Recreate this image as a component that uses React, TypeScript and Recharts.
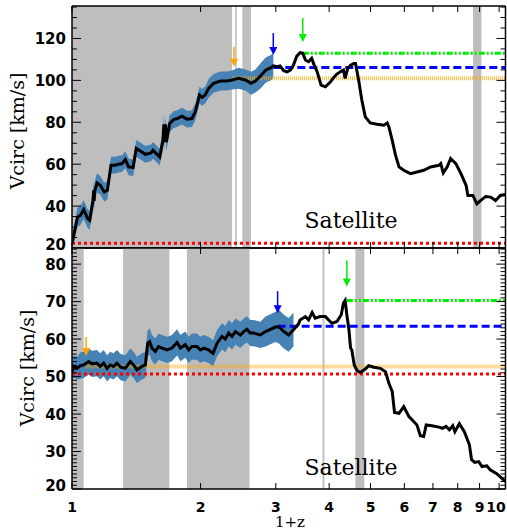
import React from 'react';
import {
    Area,
    ComposedChart,
    Line,
    ReferenceArea,
    ReferenceDot,
    ReferenceLine,
    XAxis,
    YAxis,
} from 'recharts';

const WIDTH = 507;
const HEIGHT = 532;
const Y_AXIS_W = 72;
const X_DOMAIN: [number, number] = [1, 10.35];
const xTicks = [1, 2, 3, 4, 5, 6, 7, 8, 9, 10];

// ---- upper panel ----
const topZ = [
    1.0, 1.03, 1.046, 1.065, 1.088, 1.1, 1.12, 1.124, 1.127, 1.13,
    1.144, 1.165, 1.19, 1.21, 1.234, 1.263, 1.286, 1.31, 1.333, 1.357,
    1.39, 1.414, 1.445, 1.485, 1.531, 1.547, 1.582, 1.604, 1.633, 1.641,
    1.648, 1.655, 1.663, 1.693, 1.73, 1.762, 1.81, 1.859, 1.909, 1.944,
    1.989, 2.016, 2.05, 2.089, 2.146, 2.227, 2.306, 2.37, 2.455, 2.546,
    2.626, 2.688, 2.76, 2.84, 2.93, 2.96,
    3.02, 3.07, 3.13, 3.19, 3.25, 3.3, 3.36, 3.42, 3.47, 3.52,
    3.58, 3.64, 3.69, 3.75, 3.83, 3.92, 4.03, 4.1, 4.17, 4.25,
    4.32, 4.36, 4.42, 4.49, 4.57, 4.61, 4.69, 4.77, 4.86, 4.99,
    5.18, 5.37, 5.47, 5.52, 5.62, 5.72, 5.83, 5.98, 6.2, 6.42,
    6.66, 6.91, 7.23, 7.3, 7.4, 7.56, 7.7, 7.92, 8.14, 8.37,
    8.45, 8.68, 8.87, 9.06, 9.3, 9.55, 9.81, 10.07, 10.35,
];
const topVcirc = [
    22, 34.7, 35.5, 38.3, 34, 33.2, 42.7, 47.5, 42.5, 47,
    51, 49.9, 46.7, 47.5, 59.5, 59.5, 60, 60.3, 62.2, 58.7,
    58.4, 67.5, 66.3, 64.7, 65.4, 66.6, 64.7, 63.4, 71.4, 79,
    70.5, 79, 70.6, 79.4, 81.3, 81.8, 82.9, 81.5, 81.8, 85,
    93, 91.9, 93, 96.2, 98.6, 99.7, 99.7, 100.2, 101, 100.2,
    98.6, 99.7, 102, 104.9, 106.2, 106.9,
    106.5, 106.9, 104.6, 104.1, 105, 107.3, 111.6, 113.2, 112.9, 109.7,
    108.9, 110.5, 107.3, 104.1, 97.7, 96.9, 99.3, 101.4, 103, 104.1,
    104.9, 100.9, 105.7, 107.3, 108.1, 108.1, 100.1, 90.6, 82.6, 79.7,
    79.1, 78.6, 79.7, 77.8, 71.4, 64.3, 58.7, 57.1, 55.5, 56.3,
    57.1, 58.7, 59.5, 60.3, 55.8, 58.7, 62.7, 60.3, 55.5, 49.9,
    45.1, 45.1, 41.1, 42.7, 44.6, 44.3, 42.7, 45.1, 45.5,
];
// scatter half-width, only over the stretch where the band is drawn
const topErr = [
    3, 4.5, 4.5, 4.5, 4.5, 4.5, 4.5, 4.5, 4.5, 4.5,
    4.5, 4.5, 4.5, 4.5, 4, 4, 4, 4, 4, 4,
    4, 4, 4, 4, 4, 4, 4, 4, 4.5, 4.5,
    4.5, 4.5, 4.5, 4, 4, 4, 4, 4, 4, 4,
    4, 4, 4, 4.5, 4.5, 4.5, 4.5, 4.5, 5, 5,
    5.5, 5.5, 6, 6, 6, 6,
];
const topShaded = [[1, 2.37], [2.41, 2.43], [2.505, 2.625], [8.69, 9.09]];
const topLevels = [22.3, 101, 106.2, 112.9];
const topLevelFrom = [1, 2.37, 2.96, 3.47];
const topArrowZ = [2.395, 2.96, 3.47];
const topArrowTip = [106.5, 112.1, 118.3];
const topYMajor = [20, 40, 60, 80, 100, 120];

// ---- lower panel ----
const botZ = [
    1.0, 1.01, 1.027, 1.046, 1.065, 1.094, 1.114, 1.144, 1.165, 1.186,
    1.208, 1.229, 1.251, 1.274, 1.3, 1.333, 1.369, 1.394, 1.419, 1.458,
    1.485, 1.504, 1.52, 1.539, 1.567, 1.595, 1.625, 1.669, 1.714, 1.762,
    1.794, 1.843, 1.876, 1.909, 1.962, 1.997, 2.034, 2.089, 2.139, 2.186,
    2.245, 2.286, 2.328, 2.37, 2.413, 2.478, 2.523, 2.568, 2.614, 2.662,
    2.76, 2.838, 2.914, 2.993, 3.05, 3.133, 3.216, 3.3,
    3.39, 3.42, 3.52, 3.58, 3.65, 3.71, 3.81, 3.92, 3.99, 4.06,
    4.17, 4.27, 4.32, 4.36, 4.4, 4.45, 4.49, 4.52, 4.58, 4.65,
    4.73, 4.86, 4.95, 5.09, 5.27, 5.42, 5.52, 5.62, 5.69, 5.83,
    5.98, 6.15, 6.31, 6.42, 6.54, 6.66, 6.75, 6.96, 7.23, 7.37,
    7.51, 7.65, 7.79, 7.88, 8.07, 8.29, 8.52, 8.62, 8.77, 8.96,
    9.12, 9.36, 9.53, 9.87, 10.23, 10.35,
];
const botVcirc = [
    51.3, 52.7, 52.2, 52.9, 53.1, 54, 53.4, 53.6, 52.7, 53.6,
    52.2, 53.1, 52.7, 53.6, 52.5, 52.2, 54, 53.1, 51.8, 52.7,
    53.1, 58.9, 59.3, 57.6, 56.7, 58, 57.6, 57.1, 57.6, 59.1,
    57.6, 58.5, 57.1, 58, 58, 57.1, 57.6, 57.1, 56.2, 58.9,
    60.7, 60, 61.6, 60.7, 62, 61.1, 62, 62.6, 61.6, 61.6,
    61.1, 62, 62.6, 63.2, 63.3, 62, 61.1, 62.5,
    64, 65.1, 66, 65.1, 67.1, 65.6, 66, 66, 65.1, 64.2,
    64.7, 66.5, 69.6, 70.3, 66.5, 62.5, 57.6, 57.1, 53.1, 51.6,
    51.1, 52, 52.9, 52.5, 52.2, 51.3, 48.2, 46, 40.4, 40.2,
    42, 39.3, 38, 37.1, 34.2, 34, 37.1, 36.9, 36.5, 36.2,
    36.7, 35.8, 36.9, 35.3, 37.4, 35.3, 31.8, 27.8, 27.1, 27.3,
    26, 26.2, 25.1, 24.1, 22.5, 22,
];
const botErr = [
    2.5, 3, 3, 3.5, 3.5, 3.5, 3.5, 3.5, 3.5, 3.5,
    3.5, 3.5, 3.5, 3.5, 3.5, 3.5, 3.5, 3.5, 3.5, 3.5,
    3.5, 3.5, 3.5, 3.5, 3.5, 3.5, 3.5, 3.5, 3.5, 3.5,
    3.5, 3.5, 3.5, 3.5, 3.5, 3.5, 3.5, 3.5, 3.5, 3.5,
    3.5, 3.5, 3.5, 3.5, 3.5, 3.5, 3.5, 3.5, 3.5, 3.5,
    3.5, 4, 4, 4, 4.5, 4.5, 4.5, 4.5,
];
const botShaded = [[1, 1.065], [1.317, 1.69], [1.858, 2.604], [3.86, 3.9], [4.607, 4.836]];
const botLevels = [50.7, 52.7, 63.4, 70.3];
const botLevelFrom = [1, 1.075, 3.03, 4.4];
const botArrowZ = [1.079, 3.03, 4.4];
const botArrowTip = [55.5, 66.9, 74];
const botYMajor = [20, 30, 40, 50, 60, 70, 80];

// red, orange, blue, green
const levelStyles = [
    { stroke: '#ff0000', width: 3, dash: '3 3', opacity: 1 },
    { stroke: '#ffa500', width: 4, dash: '1 1', opacity: 0.75 },
    { stroke: '#0000ff', width: 3, dash: '8 4', opacity: 1 },
    { stroke: '#00ee00', width: 3, dash: '6 2 2 2 2 2', opacity: 1 },
];
const arrowColors = ['#ffa500', '#0000ff', '#00ee00'];

const tickFont = {
    fontFamily: '"DejaVu Sans", sans-serif',
    fontWeight: 700,
    fontSize: 15,
    fill: '#000',
};
const xTickFont = { ...tickFont, fontSize: 14 };
const serif = '"DejaVu Serif", serif';

const arrowShape = (color: string, len: number) => (props: any) => {
    const { cx, cy } = props;
    return (
        <g>
            <line x1={cx} x2={cx} y1={cy - len} y2={cy - 6} stroke={color} strokeWidth={1.5} />
            <path d={`M${cx - 4},${cy - 8} L${cx + 4},${cy - 8} L${cx},${cy} Z`} fill={color} />
        </g>
    );
};

function minorTicks(domain: [number, number], step: number) {
    const out: number[] = [];
    for (let t = Math.ceil(domain[0] / step) * step; t <= domain[1]; t += step) out.push(t);
    return out;
}

type PanelProps = {
    top: number;
    bottom: number;
    z: number[];
    v: number[];
    err: number[];
    shaded: number[][];
    levels: number[];
    levelFrom: number[];
    arrowZ: number[];
    arrowTip: number[];
    arrowLen: number[];
    yDomain: [number, number];
    yMajor: number[];
    yStep: number;
    xLabels: boolean;
};

// the four axes; `show` false keeps their room but draws nothing
function axes(p: PanelProps, show: boolean) {
    const yTicks = minorTicks(p.yDomain, p.yStep);
    const isMajor = (val: number) => p.yMajor.includes(val);
    const axisLine = show ? { stroke: '#000', strokeWidth: 1.5 } : false;

    const leftTick = (t: any) => {
        const major = isMajor(t.payload.value);
        const shift = t.payload.value === p.yMajor[0] ? -4 : 0;
        return (
            <g>
                <line x1={t.x} x2={t.x + (major ? 9 : 5)} y1={t.y} y2={t.y} stroke="#000" />
                {major && (
                    <text x={t.x - 6} y={t.y + 5.5 + shift} textAnchor="end" style={tickFont}>
                        {t.payload.value}
                    </text>
                )}
            </g>
        );
    };
    const rightTick = (t: any) => {
        const major = isMajor(t.payload.value);
        return <line x1={t.x} x2={t.x - (major ? 9 : 5)} y1={t.y} y2={t.y} stroke="#000" />;
    };
    const bottomTick = (t: any) => {
        // keep the last label inside the page
        const lx = Math.min(t.x, WIDTH - 11);
        return (
            <g>
                <line x1={t.x} x2={t.x} y1={t.y} y2={t.y - 6} stroke="#000" />
                {p.xLabels && (
                    <text x={lx} y={t.y + 23} textAnchor="middle" style={xTickFont}>
                        {t.payload.value}
                    </text>
                )}
            </g>
        );
    };
    const topTick = (t: any) => <line x1={t.x} x2={t.x} y1={t.y} y2={t.y + 6} stroke="#000" />;

    const xCommon = {
        dataKey: 'z',
        type: 'number' as const,
        scale: 'log' as const,
        domain: X_DOMAIN,
        allowDataOverflow: true,
        ticks: xTicks,
        interval: 0 as const,
        height: 1,
        tickSize: 0,
        tickMargin: 0,
        tickLine: false,
        axisLine,
    };
    const yCommon = {
        type: 'number' as const,
        domain: p.yDomain,
        allowDataOverflow: true,
        ticks: yTicks,
        interval: 0 as const,
        tickSize: 0,
        tickMargin: 0,
        tickLine: false,
        axisLine,
    };
    return [
        <XAxis key="xb" {...xCommon} tick={show ? bottomTick : false} />,
        <XAxis key="xt" xAxisId="t" orientation="top" {...xCommon} tick={show ? topTick : false} />,
        <YAxis key="yl" {...yCommon} width={Y_AXIS_W} tick={show ? leftTick : false} />,
        <YAxis key="yr" yAxisId="r" orientation="right" {...yCommon} width={1} tick={show ? rightTick : false} />,
    ];
}

function Panel(p: PanelProps) {
    const line = p.z.map((z, i) => ({ z, v: p.v[i] }));
    const band = p.err.map((e, i) => ({ z: p.z[i], range: [p.v[i] - e, p.v[i] + e] }));
    const margin = { top: p.top - 1, right: 0.5, bottom: HEIGHT - p.bottom - 1, left: 0 };
    const layer = { position: 'absolute' as const, left: 0, top: 0 };

    return (
        <>
            <div style={layer}>
                <ComposedChart width={WIDTH} height={HEIGHT} margin={margin}>
                    {axes(p, false)}
                    {p.shaded.map(([a, b], i) => (
                        <ReferenceArea
                            key={`s${i}`}
                            x1={a}
                            x2={b}
                            fill="#bebebe"
                            fillOpacity={1}
                            stroke="none"
                            ifOverflow="hidden"
                        />
                    ))}
                    <Area
                        data={band}
                        dataKey="range"
                        type="linear"
                        stroke="none"
                        fill="#4682b4"
                        fillOpacity={1}
                        isAnimationActive={false}
                        dot={false}
                        activeDot={false}
                    />
                    {p.levels.map((y, i) => (
                        <ReferenceLine
                            key={`l${i}`}
                            segment={[
                                { x: p.levelFrom[i], y },
                                { x: X_DOMAIN[1], y },
                            ]}
                            stroke={levelStyles[i].stroke}
                            strokeWidth={levelStyles[i].width}
                            strokeDasharray={levelStyles[i].dash}
                            strokeOpacity={levelStyles[i].opacity}
                            ifOverflow="hidden"
                        />
                    ))}
                    <Line
                        data={line}
                        dataKey="v"
                        type="linear"
                        stroke="#000"
                        strokeWidth={3}
                        dot={false}
                        activeDot={false}
                        isAnimationActive={false}
                    />
                    {p.arrowZ.map((x, i) => (
                        <ReferenceDot
                            key={`a${i}`}
                            x={x}
                            y={p.arrowTip[i]}
                            r={0}
                            shape={arrowShape(arrowColors[i], p.arrowLen[i])}
                        />
                    ))}
                </ComposedChart>
            </div>
            <div style={layer}>
                <ComposedChart width={WIDTH} height={HEIGHT} margin={margin}>
                    {axes(p, true)}
                </ComposedChart>
            </div>
        </>
    );
}

export default function App() {
    return (
        <div
            style={{
                position: 'absolute',
                left: 0,
                top: 0,
                width: WIDTH,
                height: HEIGHT,
                background: '#fff',
                overflow: 'hidden',
            }}
        >
            <Panel
                top={6}
                bottom={248}
                z={topZ}
                v={topVcirc}
                err={topErr}
                shaded={topShaded}
                levels={topLevels}
                levelFrom={topLevelFrom}
                arrowZ={topArrowZ}
                arrowTip={topArrowTip}
                arrowLen={[20, 22, 24]}
                yDomain={[20, 135.5]}
                yMajor={topYMajor}
                yStep={5}
                xLabels={false}
            />
            <Panel
                top={248}
                bottom={489}
                z={botZ}
                v={botVcirc}
                err={botErr}
                shaded={botShaded}
                levels={botLevels}
                levelFrom={botLevelFrom}
                arrowZ={botArrowZ}
                arrowTip={botArrowTip}
                arrowLen={[19, 22, 26]}
                yDomain={[20, 84.3]}
                yMajor={botYMajor}
                yStep={1}
                xLabels={true}
            />
            <svg
                width={WIDTH}
                height={HEIGHT}
                style={{ position: 'absolute', left: 0, top: 0, pointerEvents: 'none' }}
            >
                <text
                    x={24}
                    y={131}
                    transform="rotate(-90 24 131)"
                    textAnchor="middle"
                    fontFamily={serif}
                    fontSize={19}
                >
                    Vcirc [km/s]
                </text>
                <text
                    x={34}
                    y={368}
                    transform="rotate(-90 34 368)"
                    textAnchor="middle"
                    fontFamily={serif}
                    fontSize={19}
                >
                    Vcirc [km/s]
                </text>
                <text x={351} y={228} textAnchor="middle" fontFamily={serif} fontSize={22}>
                    Satellite
                </text>
                <text x={351} y={475} textAnchor="middle" fontFamily={serif} fontSize={22}>
                    Satellite
                </text>
                <text x={290} y={527} textAnchor="middle" fontFamily={serif} fontSize={15}>
                    1+z
                </text>
            </svg>
        </div>
    );
}
